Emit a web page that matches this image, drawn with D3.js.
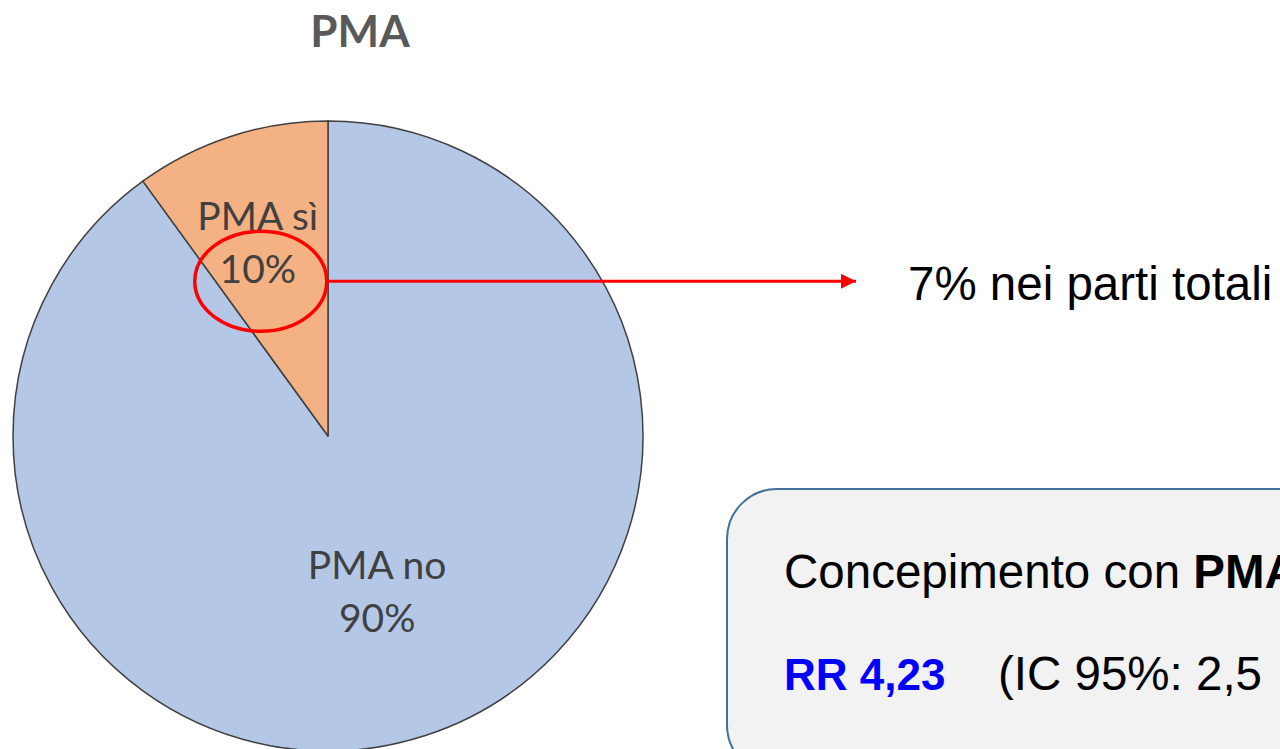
<!DOCTYPE html>
<html>
<head>
<meta charset="utf-8">
<script src="https://cdn.jsdelivr.net/npm/d3@7"></script>
<style>
  html, body { margin: 0; padding: 0; background: #fff; overflow: hidden; }
  svg { display: block; }
</style>
</head>
<body>
<svg id="chart" width="1280" height="749"></svg>
<script>
// --- DATA ---
const categories = ["PMA no", "PMA sì"];
const values = [90, 10];
const sliceColors = ["#b4c7e7", "#f4b183"];
const chartTitle = "PMA";
const calloutText = "7% nei parti totali";
const boxLine1 = ["Concepimento con ", "PMA"];
const boxLine2 = ["RR 4,23", "(IC 95%: 2,5"];

const svg = d3.select("#chart");

const cx = 328, cy = 436, radius = 315;

// title
svg.append("text")
  .attr("x", 360)
  .attr("y", 47)
  .attr("text-anchor", "middle")
  .attr("font-family", "Lato, 'Open Sans', sans-serif")
  .attr("font-weight", "bold")
  .attr("font-size", 44)
  .attr("fill", "#595959")
  .text(chartTitle);

// --- PIE ---
const pie = d3.pie().sort(null).value(d => d.value);
const arcs = pie(categories.map((c, i) => ({ label: c, value: values[i], color: sliceColors[i] })));

const arc = d3.arc().innerRadius(0).outerRadius(radius);

const g = svg.append("g").attr("transform", `translate(${cx},${cy})`);

g.selectAll("path")
  .data(arcs)
  .enter()
  .append("path")
  .attr("d", arc)
  .attr("fill", d => d.data.color)
  .attr("stroke", "#404040")
  .attr("stroke-width", 1.5)
  .attr("stroke-linejoin", "round");

// labels (radius fraction + nudge tuned per slice, like excel's best fit)
const labelFrac = [0.505, 0.66];
const labelNudge = [0, -6];
const labelPos = arcs.map((d, i) => {
  const r = radius * labelFrac[i];
  const c = d3.arc().innerRadius(r).outerRadius(r).centroid(d);
  return [c[0] + labelNudge[i], c[1]];
});

const label = g.selectAll("text.lbl")
  .data(arcs)
  .enter()
  .append("text")
  .attr("class", "lbl")
  .attr("text-anchor", "middle")
  .attr("font-family", "Lato, 'Open Sans', sans-serif")
  .attr("font-size", 39)
  .attr("fill", "#404040")
  .attr("transform", (d, i) => `translate(${labelPos[i][0]},${labelPos[i][1]})`);

label.append("tspan")
  .attr("x", 0)
  .attr("y", -8)
  .text(d => d.data.label);
label.append("tspan")
  .attr("x", 0)
  .attr("y", 45)
  .text(d => d.data.value + "%");

// --- CALLOUT: ellipse around the 10% + arrow ---
const siPos = labelPos[1];
const ex = cx + siPos[0] + 3, ey = cy + siPos[1] + 43;
const erx = 66, ery = 50;

svg.append("defs").append("marker")
  .attr("id", "arrow")
  .attr("viewBox", "0 0 10 10")
  .attr("refX", 10)
  .attr("refY", 5)
  .attr("markerWidth", 5)
  .attr("markerHeight", 5)
  .attr("markerUnits", "strokeWidth")
  .attr("orient", "auto")
  .append("path")
  .attr("d", "M0,0 L10,5 L0,10 Z")
  .attr("fill", "#ff0000");

svg.append("line")
  .attr("x1", ex + erx)
  .attr("y1", ey)
  .attr("x2", 856)
  .attr("y2", ey)
  .attr("stroke", "#ff0000")
  .attr("stroke-width", 3)
  .attr("marker-end", "url(#arrow)");

svg.append("ellipse")
  .attr("cx", ex)
  .attr("cy", ey)
  .attr("rx", erx)
  .attr("ry", ery)
  .attr("fill", "none")
  .attr("stroke", "#ff0000")
  .attr("stroke-width", 3.5);

svg.append("text")
  .attr("x", 908)
  .attr("y", 300)
  .attr("font-family", "'Liberation Sans', Arial, sans-serif")
  .attr("font-size", 47.5)
  .attr("fill", "#000")
  .text(calloutText);

// --- RR BOX ---
svg.append("rect")
  .attr("x", 727)
  .attr("y", 489)
  .attr("width", 640)
  .attr("height", 286)
  .attr("rx", 50)
  .attr("ry", 50)
  .attr("fill", "#f2f2f2")
  .attr("stroke", "#41719c")
  .attr("stroke-width", 2);

const t1 = svg.append("text")
  .attr("x", 784)
  .attr("y", 588)
  .attr("font-family", "'Liberation Sans', Arial, sans-serif")
  .attr("font-size", 47.5)
  .attr("fill", "#000");
t1.append("tspan").text(boxLine1[0]);
t1.append("tspan").attr("font-weight", "bold").text(boxLine1[1]);

svg.append("text")
  .attr("x", 784)
  .attr("y", 690)
  .attr("font-family", "'Liberation Sans', Arial, sans-serif")
  .attr("font-size", 44)
  .attr("font-weight", "bold")
  .attr("fill", "#0000ff")
  .text(boxLine2[0]);

svg.append("text")
  .attr("x", 998)
  .attr("y", 690)
  .attr("font-family", "'Liberation Sans', Arial, sans-serif")
  .attr("font-size", 47.5)
  .attr("fill", "#000")
  .text(boxLine2[1]);
</script>
</body>
</html>
